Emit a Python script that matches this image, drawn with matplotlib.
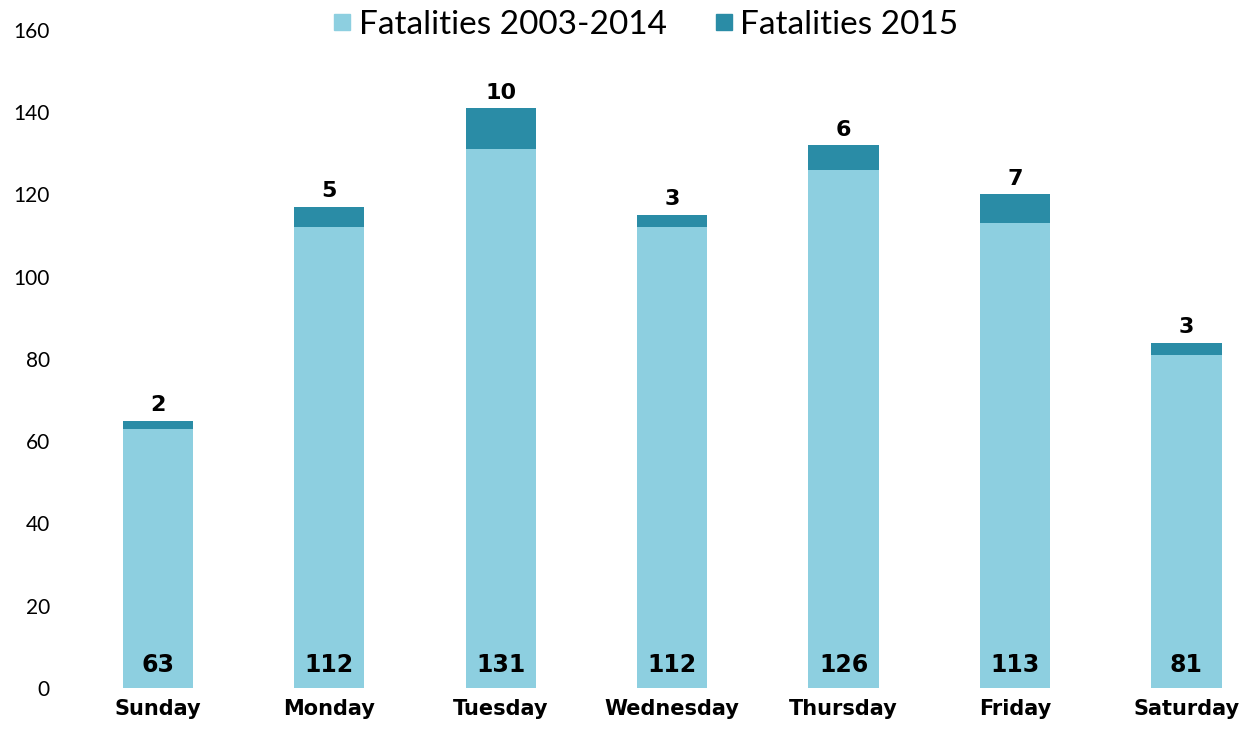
import matplotlib.pyplot as plt
from matplotlib.lines import Line2D

days = ['Sunday', 'Monday', 'Tuesday', 'Wednesday', 'Thursday', 'Friday', 'Saturday']
fatal_2003_2014 = [63, 112, 131, 112, 126, 113, 81]
fatal_2015 = [2, 5, 10, 3, 6, 7, 3]

light = '#8dcfe0'
dark = '#2a8ca6'

fig = plt.figure(figsize=(12.55, 7.32), dpi=100)
ax = fig.add_axes([0.0574, 0.0601, 0.9426, 0.899])

x = range(len(days))
ax.bar(x, fatal_2003_2014, width=0.41, color=light)
ax.bar(x, fatal_2015, width=0.41, bottom=fatal_2003_2014, color=dark)

for i in x:
    ax.text(i, 5.5, str(fatal_2003_2014[i]), ha='center', va='center',
            fontsize=17, fontweight='bold', family='DejaVu Sans')
    ax.annotate(str(fatal_2015[i]), (i, fatal_2003_2014[i] + fatal_2015[i]),
                xytext=(0, 4), textcoords='offset points', ha='center', va='bottom',
                fontsize=16, fontweight='bold', family='DejaVu Sans')

ax.set_xlim(-0.5, 6.4)
ax.set_ylim(0, 160)
ax.set_yticks(range(0, 161, 20))
ax.set_xticks(list(x))
ax.set_xticklabels(days, fontsize=15, fontweight='bold', family='DejaVu Sans')
ax.tick_params(axis='y', labelsize=15, length=0, pad=16)
ax.tick_params(axis='x', length=0, pad=8)
for lbl in ax.get_yticklabels():
    lbl.set_family('Lato')
for s in ax.spines.values():
    s.set_visible(False)

handles = [
    Line2D([], [], marker='s', linestyle='', color=light, markersize=11, label='Fatalities 2003-2014'),
    Line2D([], [], marker='s', linestyle='', color=dark, markersize=11, label='Fatalities 2015'),
]
fig.legend(handles=handles, loc='center', bbox_to_anchor=(0.513, 0.966), ncol=2,
           frameon=False, prop={'family': 'Lato', 'size': 24},
           handletextpad=0.1, columnspacing=1.3, handlelength=0.8)

fig.savefig('out.png', dpi=100)
